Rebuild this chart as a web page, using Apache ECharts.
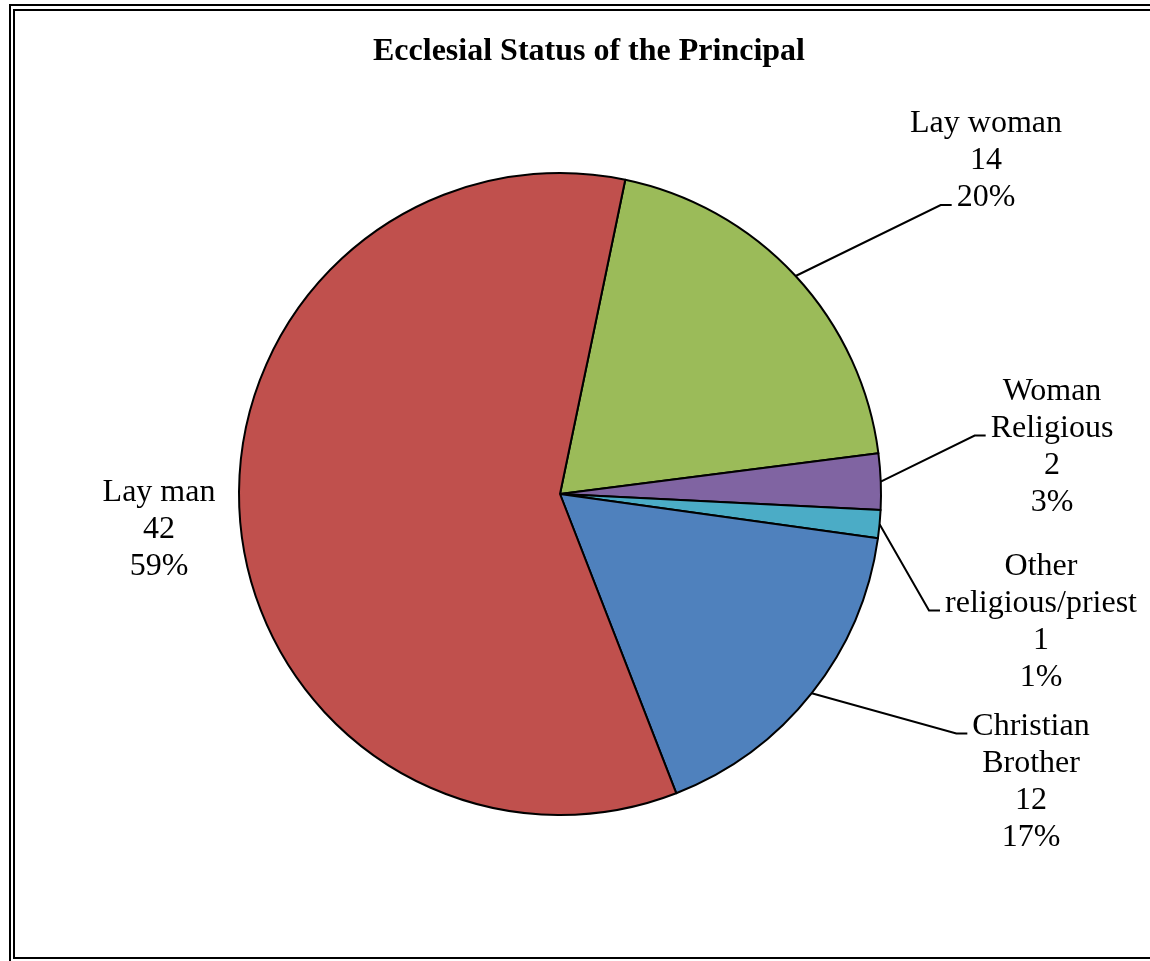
<!DOCTYPE html>
<html><head><meta charset="utf-8">
<script src="https://cdn.jsdelivr.net/npm/echarts/dist/echarts.min.js"></script>
<style>html,body{margin:0;padding:0;background:#fff}#c{width:1150px;height:961px}</style>
</head><body><div id="c"></div>
<script>
// ---- data ----
const titleText = 'Ecclesial Status of the Principal';
const categories = ['Lay woman', 'Woman Religious', 'Other religious/priest', 'Christian Brother', 'Lay man'];
const labelNames = ['Lay woman', 'Woman\nReligious', 'Other\nreligious/priest', 'Christian\nBrother', 'Lay man'];
const values = [14, 2, 1, 12, 42];
const colors = ['#9BBB59', '#8064A2', '#4BACC6', '#4F81BD', '#C0504D'];

// ---- layout config (label block centre, text line the leader meets; -1 = no leader) ----
const labelPlace = [
  {x: 986, y: 161, line: 2},
  {x: 1052, y: 447, line: 1},
  {x: 1041, y: 622, line: 1},
  {x: 1031, y: 782, line: 0},
  {x: 159, y: 530, line: -1}
];
const FONT = '"Liberation Serif", "Times New Roman", serif';
const FS = 32, LH = 37;

const total = values.reduce((a, b) => a + b, 0);
function labelText(i) {
  return labelNames[i] + '\n' + values[i] + '\n' + Math.round(values[i] / total * 100) + '%';
}
const ctx = document.createElement('canvas').getContext('2d');
ctx.font = FS + 'px ' + FONT;
function tw(s) { return ctx.measureText(s).width; }

const chart = echarts.init(document.getElementById('c'), null, {renderer: 'canvas'});
chart.setOption({
  animation: false,
  backgroundColor: '#fff',
  title: {
    text: titleText, left: 584, top: 31, textAlign: 'center',
    textStyle: {fontFamily: FONT, fontSize: 32, fontWeight: 'bold', color: '#000', lineHeight: 32}
  },
  graphic: [
    {type: 'rect', silent: true, shape: {x: 10, y: 5, width: 1200, height: 962},
     style: {fill: null, stroke: '#000', lineWidth: 2}},
    {type: 'rect', silent: true, shape: {x: 14, y: 10, width: 1200, height: 948},
     style: {fill: null, stroke: '#000', lineWidth: 2}}
  ],
  series: [{
    type: 'pie',
    center: [560, 494],
    radius: 321,
    startAngle: 78.27,
    clockwise: true,
    avoidLabelOverlap: false,
    emphasis: {disabled: true},
    itemStyle: {borderColor: '#000', borderWidth: 2},
    label: {
      show: true, position: 'outside',
      fontFamily: FONT, fontSize: FS, lineHeight: LH, color: '#000',
      formatter: p => labelText(p.dataIndex)
    },
    labelLine: {show: true, length: 40, length2: 12, smooth: false,
      lineStyle: {color: '#000', width: 2}},
    labelLayout: function (params) {
      const i = params.dataIndex;
      const pl = labelPlace[i];
      const res = {x: pl.x, y: pl.y, align: 'center', verticalAlign: 'middle'};
      if (pl.line >= 0 && params.labelLinePoints) {
        const lines = labelText(i).split('\n');
        const n = lines.length;
        const w = tw(lines[pl.line]);
        const ly = pl.y + (pl.line - (n - 1) / 2) * LH + 7;
        const xEnd = pl.x - w / 2 - 5;
        res.labelLinePoints = [params.labelLinePoints[0], [xEnd - 11, ly], [xEnd, ly]];
      }
      return res;
    },
    data: categories.map((c, i) => ({
      name: c, value: values[i],
      itemStyle: {color: colors[i]},
      labelLine: {show: labelPlace[i].line >= 0}
    }))
  }]
});
</script>
</body></html>
